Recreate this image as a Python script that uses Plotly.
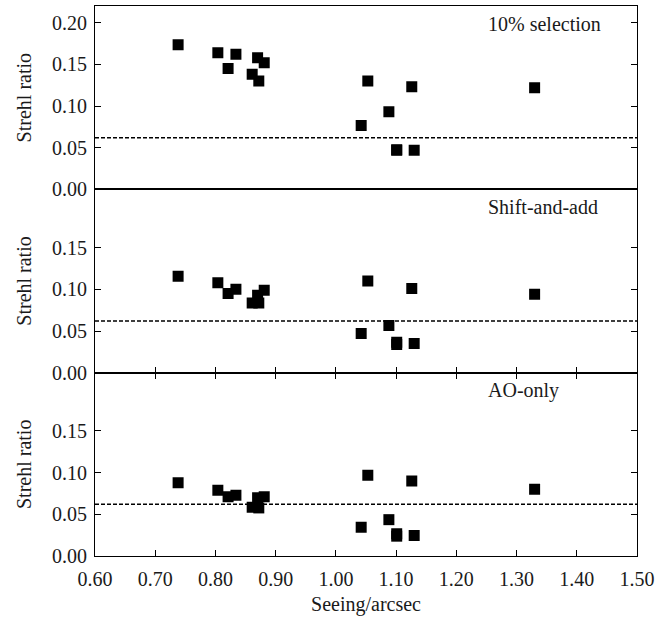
import plotly.graph_objects as go
from plotly.subplots import make_subplots

# ---- data ----
seeing = [0.738, 0.804, 0.821, 0.834, 0.861, 0.870, 0.872, 0.881,
          1.042, 1.053, 1.088, 1.101, 1.101, 1.126, 1.130, 1.330]
strehl_selection = [0.1735, 0.164, 0.145, 0.162, 0.138, 0.158, 0.130, 0.152,
                    0.0765, 0.130, 0.093, 0.0470, 0.0475, 0.123, 0.047, 0.122]
strehl_shiftadd = [0.1156, 0.108, 0.095, 0.100, 0.0835, 0.093, 0.0835, 0.099,
                   0.047, 0.110, 0.0565, 0.0366, 0.0338, 0.101, 0.035, 0.094]
strehl_aoonly = [0.088, 0.079, 0.071, 0.073, 0.0585, 0.070, 0.0577, 0.071,
                 0.0345, 0.097, 0.0436, 0.0267, 0.0238, 0.090, 0.0246, 0.080]
panel_labels = ["10% selection", "Shift-and-add", "AO-only"]
threshold = 0.062
x_ticks = [0.60, 0.70, 0.80, 0.90, 1.00, 1.10, 1.20, 1.30, 1.40, 1.50]
y_ticks_top = [0.00, 0.05, 0.10, 0.15, 0.20]
y_ticks_lower = [0.00, 0.05, 0.10, 0.15]

FONT = "Liberation Serif"
INK = "#1a1a1a"
FS = 20

fig = make_subplots(rows=3, cols=1, vertical_spacing=0)

series = [strehl_selection, strehl_shiftadd, strehl_aoonly]
for i, ys in enumerate(series):
    r = i + 1
    fig.add_trace(go.Scatter(
        x=seeing, y=ys, mode="markers",
        marker=dict(symbol="square", size=11, color="black", line=dict(width=0)),
        showlegend=False), row=r, col=1)
    fig.add_hline(y=threshold, line=dict(color="black", width=1.5, dash="4px,2px"),
                  row=r, col=1)
    axn = "" if r == 1 else str(r)
    fig.add_annotation(x=1.25, y=0.199, xref="x" + axn, yref="y" + axn,
                       text=panel_labels[i], showarrow=False,
                       xanchor="left", yanchor="middle",
                       font=dict(family=FONT, size=FS, color=INK))

for r in (1, 2, 3):
    fig.update_yaxes(
        range=[0, 0.22], tickvals=y_ticks_top if r == 1 else y_ticks_lower,
        tickformat=".2f", ticks="inside", ticklen=6, tickcolor="black",
        showline=True, linecolor="black", linewidth=1.2, mirror="ticks",
        showgrid=False, zeroline=False, ticklabelstandoff=3,
        title=dict(text="Strehl ratio", font=dict(family=FONT, size=FS, color=INK),
                   standoff=14),
        tickfont=dict(family=FONT, size=FS, color=INK),
        row=r, col=1)
    fig.update_xaxes(
        range=[0.6, 1.5], tickvals=x_ticks, tickformat=".2f",
        showline=True, linecolor="black", linewidth=1.2,
        showgrid=False, zeroline=False,
        tickfont=dict(family=FONT, size=FS, color=INK),
        row=r, col=1)

fig.update_xaxes(ticks="", showticklabels=False, mirror=True, row=1, col=1)
fig.update_xaxes(ticks="inside", ticklen=6, tickcolor="black",
                 showticklabels=False, mirror=True, row=2, col=1)
fig.update_xaxes(ticks="inside", ticklen=6, tickcolor="black",
                 showticklabels=True, mirror="ticks", ticklabelstandoff=5,
                 title=dict(text="Seeing/arcsec", font=dict(family=FONT, size=FS, color=INK),
                            standoff=7),
                 row=3, col=1)

fig.update_layout(
    width=660, height=620,
    margin=dict(l=95, r=19, t=5, b=64),
    plot_bgcolor="white", paper_bgcolor="white",
    font=dict(family=FONT, color=INK),
)

fig.write_html("out.html")
